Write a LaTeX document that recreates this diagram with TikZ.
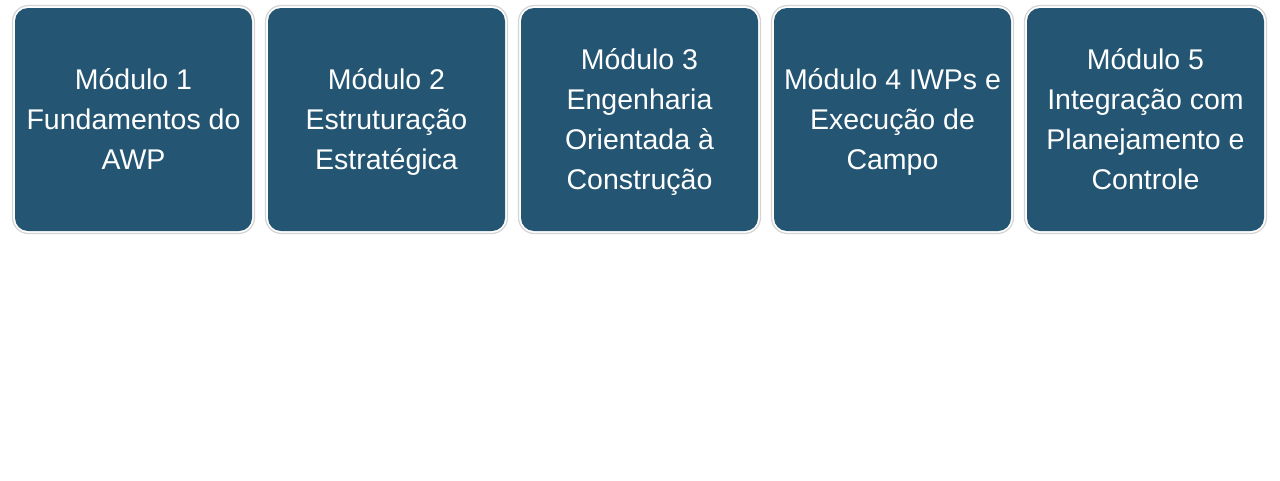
\documentclass[tikz,border=0pt]{standalone}
\usepackage{fontspec}
\setmainfont{Liberation Sans}
\definecolor{boxblue}{HTML}{245573}
\definecolor{rimgray}{HTML}{D4D4D4}
\newcommand{\nodepth}[1]{\raisebox{0pt}[\height][0pt]{#1}}
\begin{document}
\begin{tikzpicture}[x=1pt,y=-1pt,
  outerbox/.style={draw=rimgray, line width=1.2pt, fill=white, rounded corners=16pt,
    minimum width=242pt, minimum height=228pt, inner sep=0pt},
  modbox/.style={fill=boxblue, rounded corners=13pt, minimum width=237pt, minimum height=223pt,
    inner sep=0pt, text=white, align=center,
    font=\fontsize{28.5pt}{40pt}\selectfont}]
\useasboundingbox (0,0) rectangle (1280,480);
\foreach \i/\x in {1/133.5,2/386.5,3/639.5,4/892.5,5/1145.5}{
  \node[outerbox] (b\i) at (\x,119.5) {};
}
\node[modbox] (t1) at (b1) {Módulo 1\\Fundamentos do\\AWP};
\node[modbox] (t2) at (b2) {Módulo 2\\Estruturação\\\nodepth{Estratégica}};
\node[modbox] (t3) at (b3) {Módulo 3\\Engenharia\\Orientada à\\\nodepth{Construção}};
\node[modbox] (t4) at (b4) {Módulo 4 IWPs e\\Execução de\\\nodepth{Campo}};
\node[modbox] (t5) at (b5) {Módulo 5\\Integração com\\Planejamento e\\Controle};
\end{tikzpicture}
\end{document}
